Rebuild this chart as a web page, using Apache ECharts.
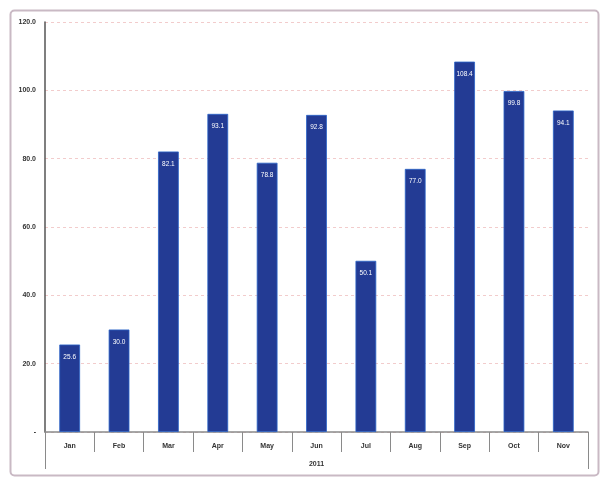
<!DOCTYPE html>
<html><head><meta charset="utf-8">
<script src="https://cdn.jsdelivr.net/npm/echarts@6/dist/echarts.min.js"></script>
<style>html,body{margin:0;padding:0;background:#fff}#c{width:607px;height:490px}</style>
</head><body><div id="c"></div>
<script>
const categories = ['Jan','Feb','Mar','Apr','May','Jun','Jul','Aug','Sep','Oct','Nov'];
const values = [25.6, 30.0, 82.1, 93.1, 78.8, 92.8, 50.1, 77.0, 108.4, 99.8, 94.1];
const groupLabels = ['2011'];
const yTicks = {min: 0, max: 120, interval: 20};

const chart = echarts.init(document.getElementById('c'));
chart.setOption({
  backgroundColor: '#fff',
  animation: false,
  graphic: [{type:'rect', shape:{x:10.5,y:10.5,width:588,height:465,r:4}, style:{fill:'none', stroke:'#c9b9c4', lineWidth:2}, z:-1}],
  grid: {left: 45, right: 19, top: 22, bottom: 58},
  xAxis: [{
    type: 'category', data: categories, position: 'bottom',
    axisLine: {show: true, lineStyle: {color: '#8a8a8a', width: 1.5}},
    axisTick: {show: true, length: 20, lineStyle: {color: '#8a8a8a'}},
    axisLabel: {color: '#333', fontSize: 7, fontWeight: 'bold', margin: 11, fontFamily: 'Liberation Sans'}
  }, {
    type: 'category', data: groupLabels, position: 'bottom',
    axisLine: {show: false},
    axisTick: {show: true, length: 37, lineStyle: {color: '#8a8a8a'}},
    axisLabel: {color: '#333', fontSize: 7, fontWeight: 'bold', margin: 29, fontFamily: 'Liberation Sans'}
  }],
  yAxis: {
    type: 'value', min: yTicks.min, max: yTicks.max, interval: yTicks.interval,
    axisLine: {show: true, lineStyle: {color: '#555', width: 1.5}},
    axisTick: {show: false},
    axisLabel: {color: '#333', fontSize: 7, fontWeight: 'bold', margin: 9, fontFamily: 'Liberation Sans',
      formatter: v => v === 0 ? '-' : v.toFixed(1)},
    splitLine: {show: true, lineStyle: {color: '#f2cccc', type: [3, 3], width: 1}}
  },
  series: [{
    type: 'bar', data: values, xAxisIndex: 0, barWidth: '42%',
    itemStyle: {color: '#233b94', borderColor: '#2a63c8', borderWidth: 0.8},
    label: {show: true, position: 'insideTop', color: '#fff', fontSize: 6.5, distance: 9,
      fontFamily: 'Liberation Sans', formatter: p => p.value.toFixed(1)}
  }]
});
</script></body></html>
